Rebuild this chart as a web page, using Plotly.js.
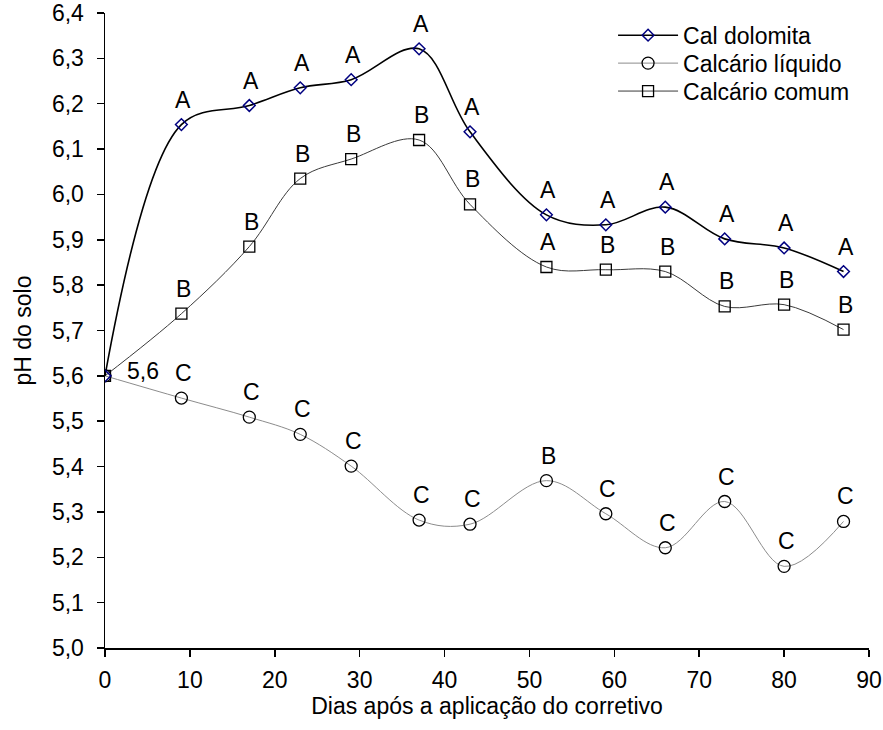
<!DOCTYPE html>
<html>
<head>
<meta charset="utf-8">
<script src="https://cdn.plot.ly/plotly-3.0.1.min.js"></script>
<style>html,body{margin:0;padding:0;background:#fff;}#chart{width:883px;height:730px;}</style>
</head>
<body>
<div id="chart"></div>
<script>
// Days after application
var dias = [0, 9, 17, 23, 29, 37, 43, 52, 59, 66, 73, 80, 87];
// Soil pH by treatment
var calDolomita = [5.60, 6.154, 6.196, 6.235, 6.253, 6.321, 6.138, 5.955, 5.933, 5.972, 5.902, 5.882, 5.830];
var calcarioLiquido = [5.60, 5.551, 5.509, 5.471, 5.401, 5.282, 5.273, 5.369, 5.296, 5.221, 5.323, 5.180, 5.279];
var calcarioComum = [5.60, 5.737, 5.885, 6.035, 6.078, 6.120, 5.978, 5.840, 5.834, 5.830, 5.753, 5.757, 5.702];
// Significance letters (none at day 0)
var letrasDolomita = ["", "A", "A", "A", "A", "A", "A", "A", "A", "A", "A", "A", "A"];
var letrasLiquido = ["", "C", "C", "C", "C", "C", "C", "B", "C", "C", "C", "C", "C"];
var letrasComum = ["", "B", "B", "B", "B", "B", "B", "A", "B", "B", "B", "B", "B"];
var valorInicialTexto = "5,6";
var xTicks = [0, 10, 20, 30, 40, 50, 60, 70, 80, 90];
var yTicks = [5.0, 5.1, 5.2, 5.3, 5.4, 5.5, 5.6, 5.7, 5.8, 5.9, 6.0, 6.1, 6.2, 6.3, 6.4];
var yTickText = yTicks.map(function (v) { return v.toFixed(1).replace('.', ','); });

var FONT = 'Arial, "Liberation Sans", sans-serif';
var FS = 23;

var traces = [
  {
    x: dias, y: calcarioComum, name: 'Calcário comum', mode: 'lines+markers', legend: 'legend3',
    line: {color: '#3a3a3a', width: 1, shape: 'spline', smoothing: 1},
    marker: {symbol: 'square-open', size: 11, color: '#000', line: {color: '#000', width: 1.3}}
  },
  {
    x: dias, y: calcarioLiquido, name: 'Calcário líquido', mode: 'lines+markers', legend: 'legend2',
    line: {color: '#8c8c8c', width: 1, shape: 'spline', smoothing: 1},
    marker: {symbol: 'circle-open', size: 12, color: '#000', line: {color: '#000', width: 1.3}}
  },
  {
    x: dias, y: calDolomita, name: 'Cal dolomita', mode: 'lines+markers', legend: 'legend',
    line: {color: '#000', width: 1.6, shape: 'spline', smoothing: 1},
    marker: {symbol: 'diamond-open', size: 9, color: '#000080', line: {color: '#000080', width: 1.5}}
  }
];

var annotations = [];
function addLetters(ys, letters) {
  for (var i = 0; i < dias.length; i++) {
    if (!letters[i]) continue;
    annotations.push({
      x: dias[i], y: ys[i], xref: 'x', yref: 'y', text: letters[i], showarrow: false,
      xanchor: 'center', yanchor: 'middle', xshift: 2, yshift: 25,
      font: {family: FONT, size: FS, color: '#000'}
    });
  }
}
addLetters(calDolomita, letrasDolomita);
addLetters(calcarioComum, letrasComum);
addLetters(calcarioLiquido, letrasLiquido);
annotations.push({
  x: dias[0], y: calDolomita[0], xref: 'x', yref: 'y', text: valorInicialTexto, showarrow: false,
  xanchor: 'center', yanchor: 'middle', xshift: 38, yshift: 5,
  font: {family: FONT, size: FS, color: '#000'}
});

function legendBox(yPos) {
  return {
    x: 0.665, y: yPos, xanchor: 'left', yanchor: 'middle',
    bgcolor: 'rgba(0,0,0,0)', borderwidth: 0,
    font: {family: FONT, size: FS, color: '#000'},
    itemwidth: 60
  };
}

var layout = {
  width: 883, height: 730,
  margin: {l: 105, r: 14, t: 13, b: 82, pad: 0},
  paper_bgcolor: '#fff', plot_bgcolor: '#fff',
  font: {family: FONT, size: FS, color: '#000'},
  showlegend: true,
  legend: legendBox(0.965),
  legend2: legendBox(0.921),
  legend3: legendBox(0.877),
  xaxis: {
    range: [0, 90], tickvals: xTicks, ticktext: xTicks.map(String),
    showline: true, linecolor: '#000', linewidth: 1.5, mirror: false,
    ticks: 'outside', ticklen: 7, tickwidth: 1.5, tickcolor: '#000',
    showgrid: false, zeroline: false, ticklabelstandoff: 4,
    title: {text: 'Dias após a aplicação do corretivo', font: {family: FONT, size: FS, color: '#000'}, standoff: 5}
  },
  yaxis: {
    range: [5.0, 6.4], tickvals: yTicks, ticktext: yTickText,
    showline: true, linecolor: '#000', linewidth: 1.5, mirror: false,
    ticks: 'outside', ticklen: 7, tickwidth: 1.5, tickcolor: '#000',
    showgrid: false, zeroline: false, ticklabelstandoff: 8,
    title: {text: 'pH do solo', font: {family: FONT, size: FS, color: '#000'}, standoff: 14}
  },
  annotations: annotations
};

Plotly.newPlot('chart', traces, layout, {displayModeBar: false, staticPlot: true});
</script>
</body>
</html>
